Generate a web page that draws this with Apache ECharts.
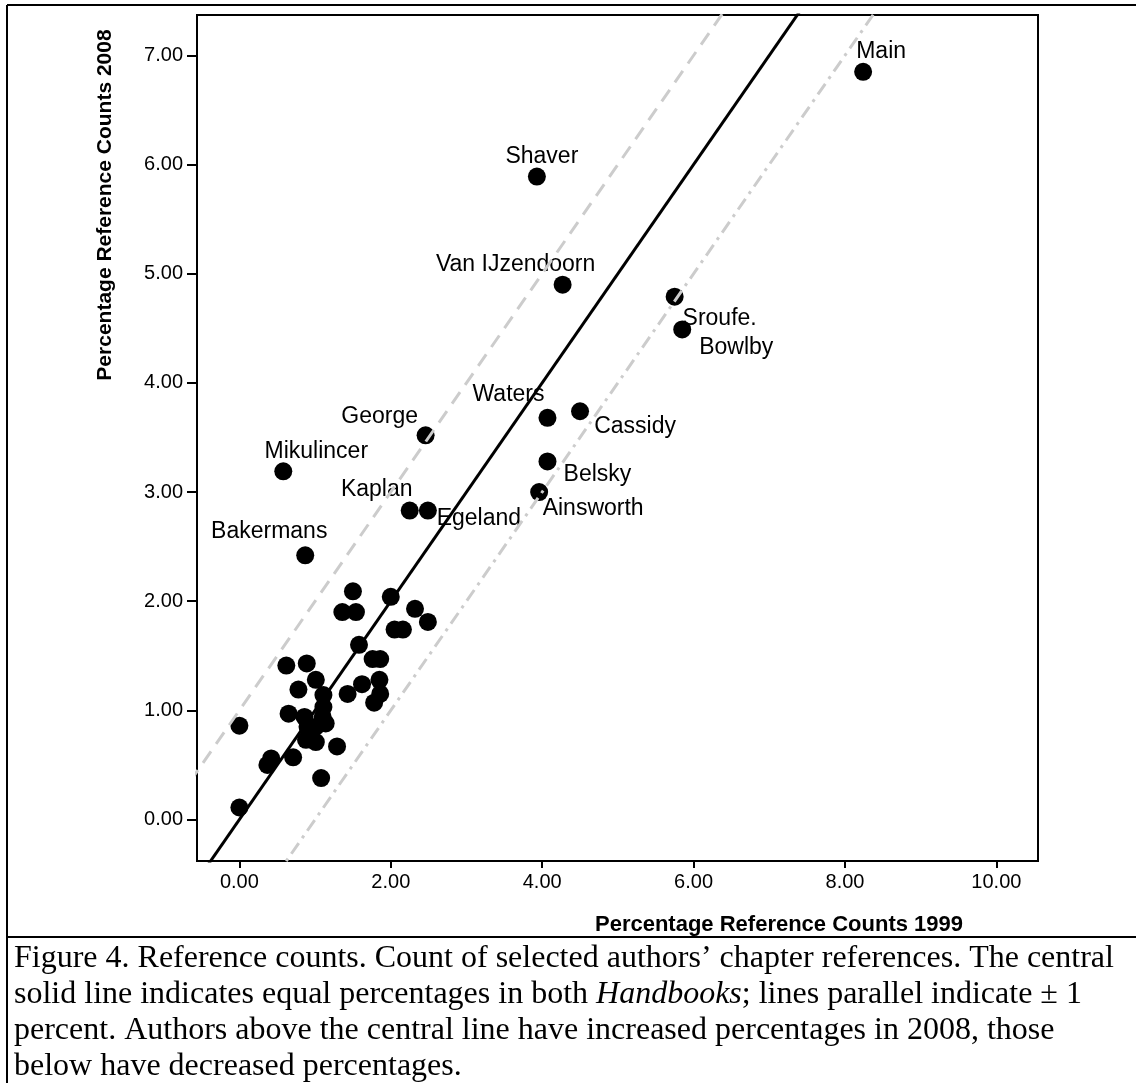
<!DOCTYPE html>
<html><head><meta charset="utf-8">
<script src="https://cdn.jsdelivr.net/npm/echarts@6/dist/echarts.min.js"></script>
<style>html,body{margin:0;padding:0;background:#fff}#c{width:1136px;height:1083px}</style>
</head><body><div id="c"></div>
<script>
// ---- data ----
const xTicks = [0, 2, 4, 6, 8, 10];
const yTicks = [0, 1, 2, 3, 4, 5, 6, 7];
const labeledNames = ['Main','Shaver','Van IJzendoorn','Sroufe.','Bowlby','Waters','Cassidy','George','Mikulincer','Belsky','Ainsworth','Kaplan','Egeland','Bakermans'];
const labeledX = [8.24, 3.93, 4.27, 5.75, 5.85, 4.07, 4.50, 2.46, 0.58, 4.07, 3.96, 2.25, 2.49, 0.87];
const labeledY = [6.85, 5.89, 4.90, 4.79, 4.49, 3.68, 3.74, 3.52, 3.19, 3.28, 3.00, 2.83, 2.83, 2.42];
const otherX = [1.50, 1.36, 1.54, 2.00, 2.32, 2.49, 2.05, 2.16, 1.58, 1.76, 1.86, 0.62, 0.89, 1.01, 1.85, 0.78, 1.43, 1.62, 1.86, 1.78, 1.11, 1.11, 0.65, 0.86, 1.14, 1.01, 0.88, 1.01, 1.29, 0.42, 0.37, 0.71, 1.08, 0.00, 0.00, 1.10, 0.90];
const otherY = [2.09, 1.90, 1.90, 2.04, 1.93, 1.81, 1.74, 1.74, 1.60, 1.47, 1.47, 1.41, 1.43, 1.28, 1.28, 1.19, 1.15, 1.24, 1.15, 1.07, 1.14, 1.03, 0.97, 0.94, 0.88, 0.85, 0.73, 0.71, 0.67, 0.56, 0.50, 0.57, 0.38, 0.11, 0.86, 0.94, 0.85];
// reference lines: equal percentages and +/- 1 percent
const refX = [-1, 12];
const equalY = [-1, 12];
const plusOneY = [0, 13];
const minusOneY = [-2, 11];

// ---- label placement (style) ----
const labelOffsets = {
  'Main': [18, -20], 'Shaver': [5, -20], 'Van IJzendoorn': [-47, -20], 'Sroufe.': [45, 22],
  'Bowlby': [54, 18], 'Waters': [-39, -23], 'Cassidy': [55, 15], 'George': [-46, -19],
  'Mikulincer': [33, -20], 'Belsky': [50, 13], 'Ainsworth': [54, 17], 'Kaplan': [-33, -21],
  'Egeland': [51, 8], 'Bakermans': [-36, -24]
};

const chart = echarts.init(document.getElementById('c'), null, {renderer: 'canvas'});
const sans = '"Liberation Sans", Arial, sans-serif';
const serif = '"Liberation Serif", "Times New Roman", serif';

const labeledData = labeledNames.map((n, i) => ({name: n, value: [labeledX[i], labeledY[i]]}));
const otherData = otherX.map((x, i) => [x, otherY[i]]);
const lineData = ys => refX.map((x, i) => [x, ys[i]]);

const axisCommon = {
  type: 'value', splitLine: {show: false},
  axisLine: {show: true, onZero: false, lineStyle: {color: '#000', width: 2}},
};

chart.setOption({
  animation: false,
  backgroundColor: '#fff',
  grid: {left: 197, right: 98, top: 15, bottom: 222, show: true, borderColor: '#000', borderWidth: 2, backgroundColor: 'transparent'},
  xAxis: Object.assign({}, axisCommon, {
    min: -0.56, max: 10.55,
    axisTick: {show: true, customValues: xTicks, length: 7, lineStyle: {color: '#000', width: 2}},
    axisLabel: {show: true, customValues: xTicks, formatter: v => v.toFixed(2), color: '#000', fontSize: 20, fontFamily: sans, margin: 11}
  }),
  yAxis: Object.assign({}, axisCommon, {
    min: -0.38, max: 7.37,
    axisTick: {show: true, customValues: yTicks, length: 10, lineStyle: {color: '#000', width: 2}},
    axisLabel: {show: true, customValues: yTicks, formatter: v => v.toFixed(2), color: '#000', fontSize: 20, fontFamily: sans, margin: 14}
  }),
  series: [
    {type: 'line', data: lineData(plusOneY), symbol: 'none', clip: true, silent: true,
     lineStyle: {color: '#cccccc', width: 3, type: [14, 9]}},
    {type: 'line', data: lineData(minusOneY), symbol: 'none', clip: true, silent: true,
     lineStyle: {color: '#cccccc', width: 3, type: [13, 6, 3, 6]}},
    {type: 'line', data: lineData(equalY), symbol: 'none', clip: true, silent: true,
     lineStyle: {color: '#000', width: 3}},
    {type: 'scatter', data: otherData, symbol: 'circle', symbolSize: 18, itemStyle: {color: '#000', opacity: 1}},
    {type: 'scatter', data: labeledData, symbol: 'circle', symbolSize: 18, itemStyle: {color: '#000', opacity: 1},
     label: {show: true, formatter: p => p.name, color: '#000', fontSize: 23, fontFamily: sans, position: 'inside'},
     labelLayout: function (p) {
       const o = labelOffsets[labeledNames[p.dataIndex]];
       return {x: p.rect.x + p.rect.width / 2 + o[0], y: p.rect.y + p.rect.height / 2 + o[1],
               align: 'center', verticalAlign: 'middle', hideOverlap: false};
     }}
  ],
  graphic: [
    {type: 'line', shape: {x1: 7, y1: 5, x2: 1136, y2: 5}, style: {stroke: '#000', lineWidth: 2}},
    {type: 'line', shape: {x1: 7, y1: 5, x2: 7, y2: 1083}, style: {stroke: '#000', lineWidth: 2}},
    {type: 'line', shape: {x1: 7, y1: 937, x2: 1136, y2: 937}, style: {stroke: '#000', lineWidth: 2}},
    {type: 'text', x: 105, y: 205, rotation: Math.PI / 2,
     style: {text: 'Percentage Reference Counts 2008', fill: '#000', font: 'bold 21px ' + sans, align: 'center', verticalAlign: 'middle'}},
    {type: 'text', x: 779, y: 925,
     style: {text: 'Percentage Reference Counts 1999', fill: '#000', font: 'bold 22px ' + sans, align: 'center', verticalAlign: 'middle'}},
    {type: 'text', x: 14, y: 959, style: {text: 'Figure 4. Reference counts. Count of selected authors\u2019 chapter references. The central', fill: '#000', font: '32px ' + serif, verticalAlign: 'middle'}},
    {type: 'text', x: 14, y: 995, style: {text: 'solid line indicates equal percentages in both {i|Handbooks}; lines parallel indicate \u00b1 1', fill: '#000', font: '32px ' + serif, verticalAlign: 'middle',
      rich: {i: {fontStyle: 'italic', fontSize: 32, fontFamily: serif, fill: '#000'}}}},
    {type: 'text', x: 14, y: 1031, style: {text: 'percent. Authors above the central line have increased percentages in 2008, those', fill: '#000', font: '32px ' + serif, verticalAlign: 'middle'}},
    {type: 'text', x: 14, y: 1067, style: {text: 'below have decreased percentages.', fill: '#000', font: '32px ' + serif, verticalAlign: 'middle'}}
  ]
});
</script></body></html>
